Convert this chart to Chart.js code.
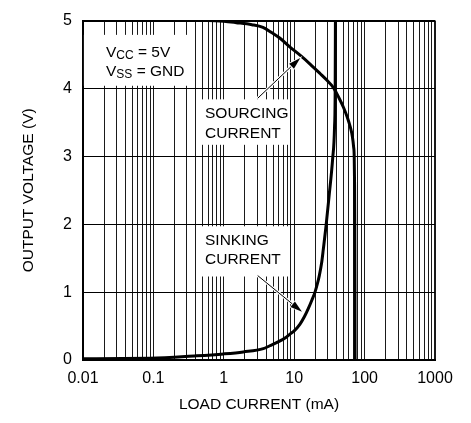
<!DOCTYPE html>
<html>
<head>
<meta charset="UTF-8">
<title>Output Voltage vs Load Current</title>
<script src="https://cdn.jsdelivr.net/npm/chart.js"></script>
<style>
  body { margin: 0; background: #fff; }
  canvas { display: block; }
</style>
</head>
<body>
<canvas id="chart" width="471" height="423"></canvas>
<script>
// data (current in mA, voltage in V)
const sourcingCurrent = [0.01, 0.6, 1, 1.5, 2.5, 3.6, 4.84, 6.29, 8.72, 12.1, 16.8, 23.3, 29.2, 36.2, 43.3, 50.2, 56.6, 62.7, 67.1, 69.8, 71.2, 72.1, 72.6, 73.05, 73.3];
const sourcingVoltage = [5, 5, 4.99, 4.97, 4.94, 4.9, 4.82, 4.74, 4.61, 4.49, 4.36, 4.22, 4.12, 4.01, 3.86, 3.72, 3.58, 3.43, 3.29, 3.14, 3.0, 2.57, 2.0, 1.0, 0];
const sinkingCurrent = [0.01, 0.09, 0.41, 1, 1.89, 3.64, 4.5, 6, 7.8, 8.7, 10, 12.1, 14, 15.9, 17.8, 19.75, 21.3, 22.7, 24.6, 25.9, 28.3, 31.2, 35.2, 37.4, 38.2, 38.5];
const sinkingVoltage = [0.02, 0.024, 0.061, 0.09, 0.119, 0.167, 0.21, 0.27, 0.34, 0.38, 0.43, 0.53, 0.64, 0.76, 0.88, 1.0, 1.12, 1.24, 1.44, 1.63, 1.97, 2.4, 2.97, 3.43, 4.0, 5.0];

const xDecades = [0.01, 0.1, 1, 10, 100, 1000];
const xTickLabels = ['0.01', '0.1', '1', '10', '100', '1000'];
const yTickLabels = ['0', '1', '2', '3', '4', '5'];

const FONT = "'Liberation Sans', Arial, sans-serif";

// grid lines at 1..9 of every decade
const xGrid = [];
xDecades.forEach((d, i) => {
    if (i === xDecades.length - 1) { xGrid.push(d); return; }
    for (let k = 1; k <= 9; k++) xGrid.push(parseFloat((d * k).toPrecision(3)));
});

const toPoints = (xs, ys) => xs.map((v, i) => ({ x: v, y: ys[i] }));

function subText(ctx, x, y, main, sub, rest) {
    ctx.font = '15.5px ' + FONT;
    ctx.fillText(main, x, y);
    let w = ctx.measureText(main).width;
    ctx.font = '12px ' + FONT;
    ctx.fillText(sub, x + w, y + 2);
    w += ctx.measureText(sub).width;
    ctx.font = '15.5px ' + FONT;
    ctx.fillText(rest, x + w, y);
}

function arrow(ctx, x0, y0, x1, y1) {
    const a = Math.atan2(y1 - y0, x1 - x0);
    const hl = 12, hw = 3.5;
    const bx = x1 - hl * Math.cos(a), by = y1 - hl * Math.sin(a);
    ctx.lineCap = 'round';
    ctx.strokeStyle = '#fff';
    ctx.lineWidth = 3;
    ctx.beginPath(); ctx.moveTo(x0, y0); ctx.lineTo(bx, by); ctx.stroke();
    ctx.strokeStyle = '#000';
    ctx.lineWidth = 1;
    ctx.beginPath(); ctx.moveTo(x0, y0); ctx.lineTo(bx, by); ctx.stroke();
    ctx.beginPath();
    ctx.moveTo(x1, y1);
    ctx.lineTo(bx + hw * Math.sin(a), by - hw * Math.cos(a));
    ctx.lineTo(bx - hw * Math.sin(a), by + hw * Math.cos(a));
    ctx.closePath();
    ctx.strokeStyle = '#fff';
    ctx.lineWidth = 1.5;
    ctx.stroke();
    ctx.fillStyle = '#000';
    ctx.fill();
}

// labels with white boxes, and arrows pointing at the curves
const notes = {
    id: 'notes',
    beforeDatasetsDraw(chart) {
        const { ctx, scales: { x, y } } = chart;
        const X = v => x.getPixelForValue(v), Y = v => y.getPixelForValue(v);
        ctx.save();
        ctx.fillStyle = '#fff';
        // box: [x0, x1, vTop, vBottom]
        [[0.0103, 0.366, 4.79, 4.04], [0.417, 8.7, 3.84, 3.17], [0.417, 8.7, 1.97, 1.23]].forEach(b => {
            ctx.fillRect(X(b[0]), Y(b[2]), X(b[1]) - X(b[0]), Y(b[3]) - Y(b[2]));
        });
        ctx.fillStyle = '#000';
        ctx.textBaseline = 'alphabetic';
        ctx.textAlign = 'left';
        subText(ctx, X(0.0212), Y(4.47), 'V', 'CC', ' = 5V');
        subText(ctx, X(0.0212), Y(4.18), 'V', 'SS', ' = GND');
        ctx.font = '15.5px ' + FONT;
        ctx.fillText('SOURCING', X(0.541), Y(3.57));
        ctx.fillText('CURRENT', X(0.541), Y(3.27));
        ctx.fillText('SINKING', X(0.541), Y(1.69));
        ctx.fillText('CURRENT', X(0.541), Y(1.41));
        ctx.restore();
    },
    afterDatasetsDraw(chart) {
        const { ctx, scales: { x, y } } = chart;
        const X = v => x.getPixelForValue(v), Y = v => y.getPixelForValue(v);
        ctx.save();
        arrow(ctx, X(3.06), Y(3.86), X(12.2), Y(4.45));
        arrow(ctx, X(3.06), Y(1.24), X(12.9), Y(0.71));
        ctx.restore();
    }
};

const curve = {
    borderColor: '#000',
    borderWidth: 3,
    pointRadius: 0,
    fill: false,
    cubicInterpolationMode: 'monotone'
};

new Chart(document.getElementById('chart'), {
    type: 'line',
    data: {
        datasets: [
            Object.assign({ label: 'Sourcing', data: toPoints(sourcingCurrent, sourcingVoltage) }, curve),
            Object.assign({ label: 'Sinking', data: toPoints(sinkingCurrent, sinkingVoltage) }, curve)
        ]
    },
    options: {
        responsive: false,
        animation: false,
        devicePixelRatio: 1,
        layout: { padding: { top: 10, right: 36, left: 0, bottom: 0 } },
        plugins: { legend: { display: false }, tooltip: { enabled: false } },
        scales: {
            x: {
                type: 'logarithmic',
                min: 0.01,
                max: 1000,
                afterBuildTicks: s => { s.ticks = xGrid.map(v => ({ value: v })); },
                afterFit: s => { s.height = 63; },
                grid: {
                    color: '#1a1a1a',
                    lineWidth: c => (c.tick && c.tick.value === 1000 ? 2 : 1),
                    drawTicks: false
                },
                border: { color: '#000', width: 2 },
                ticks: {
                    autoSkip: false,
                    maxRotation: 0,
                    padding: 9,
                    color: '#000',
                    font: { family: FONT, size: 16 },
                    callback: v => {
                        const i = xDecades.indexOf(v);
                        return i >= 0 ? xTickLabels[i] : '';
                    }
                },
                title: {
                    display: true,
                    text: 'LOAD CURRENT (mA)',
                    color: '#000',
                    font: { family: FONT, size: 15.5 },
                    padding: { top: 0, bottom: 9 }
                }
            },
            y: {
                min: 0,
                max: 5,
                afterFit: s => { s.width = 83; },
                grid: {
                    color: '#000',
                    lineWidth: c => (c.tick && c.tick.value === 5 ? 2 : 1),
                    drawTicks: false
                },
                border: { color: '#000', width: 2 },
                ticks: {
                    stepSize: 1,
                    padding: 11,
                    color: '#000',
                    font: { family: FONT, size: 16 },
                    callback: (v, i) => yTickLabels[i]
                },
                title: {
                    display: true,
                    text: 'OUTPUT VOLTAGE (V)',
                    color: '#000',
                    font: { family: FONT, size: 15.5 },
                    padding: { top: 19, bottom: 0 }
                }
            }
        }
    },
    plugins: [notes]
});
</script>
</body>
</html>
